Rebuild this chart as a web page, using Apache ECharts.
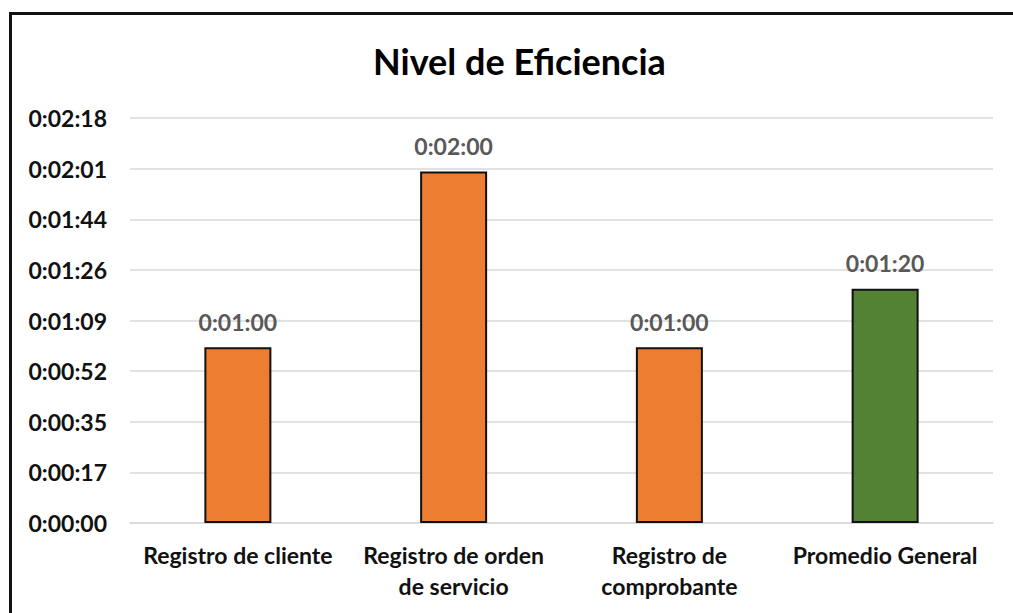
<!DOCTYPE html>
<html>
<head>
<meta charset="utf-8">
<script src="https://cdn.jsdelivr.net/npm/echarts@6/dist/echarts.min.js"></script>
<style>
  html, body { margin: 0; padding: 0; background: #fff; overflow: hidden; }
  #frame {
    position: absolute; left: 9px; top: 12px;
    width: 1040px; height: 640px;
    border: 3px solid #111; box-sizing: border-box;
  }
  #chart { position: absolute; left: 0; top: 0; width: 1013px; height: 613px; }
</style>
</head>
<body>
<div id="frame"></div>
<div id="chart"></div>
<script>
// categories and values (seconds)
const categories = [
    'Registro de cliente',
    'Registro de orden\nde servicio',
    'Registro de\ncomprobante',
    'Promedio General'
];
const seconds = [60, 120, 60, 80];
const barColors = ['#ED7D31', '#ED7D31', '#ED7D31', '#548235'];

// Excel-style time axis: step of 0.0002 day = 17.28 s
const yStep = 17.28;
const yTickLabels = ['0:00:00', '0:00:17', '0:00:35', '0:00:52', '0:01:09',
                     '0:01:26', '0:01:44', '0:02:01', '0:02:18'];

function toClock(s) {
    const h = Math.floor(s / 3600);
    const m = Math.floor((s % 3600) / 60);
    const sec = Math.round(s % 60);
    return h + ':' + String(m).padStart(2, '0') + ':' + String(sec).padStart(2, '0');
}

const chart = echarts.init(document.getElementById('chart'), null, {renderer: 'svg'});

chart.setOption({
    animation: false,
    textStyle: { fontFamily: 'Lato' },
    title: {
        text: 'Nivel de Eficiencia',
        left: 368,
        top: 38,
        textStyle: { fontFamily: 'Lato', fontWeight: 'bold', fontSize: 36, color: '#000' }
    },
    grid: { left: 130, right: 20, top: 118, bottom: 90 },
    xAxis: {
        type: 'category',
        data: categories,
        axisTick: { show: false },
        axisLine: { lineStyle: { color: '#d9d9d9', width: 1.5 } },
        axisLabel: {
            color: '#111', fontWeight: 'bold', fontSize: 23,
            lineHeight: 31, margin: 16, interval: 0
        }
    },
    yAxis: {
        type: 'value',
        min: 0,
        max: yStep * (yTickLabels.length - 1),
        interval: yStep,
        axisLine: { show: false },
        axisTick: { show: false },
        splitLine: { lineStyle: { color: '#d9d9d9', width: 1.5 } },
        axisLabel: {
            color: '#111', fontWeight: 'bold', fontSize: 23, margin: 23,
            formatter: (v) => yTickLabels[Math.round(v / yStep)]
        }
    },
    series: [{
        type: 'bar',
        barWidth: 67,
        data: seconds.map((v, i) => ({
            value: v,
            itemStyle: { color: barColors[i], borderColor: '#111', borderWidth: 2 }
        })),
        label: {
            show: true,
            position: 'top',
            distance: 14,
            color: '#595959',
            fontWeight: 'bold',
            fontSize: 23,
            formatter: (p) => toClock(p.value)
        }
    }]
});
</script>
</body>
</html>
